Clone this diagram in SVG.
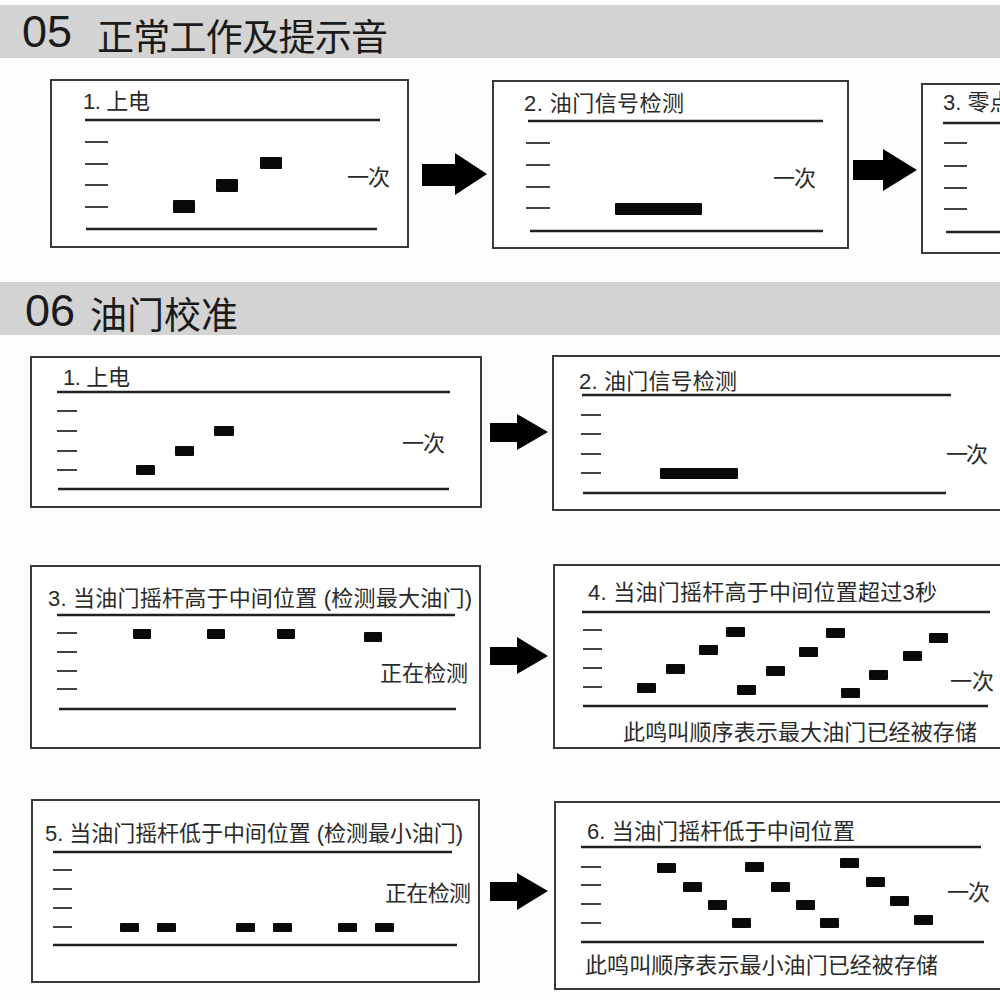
<svg xmlns="http://www.w3.org/2000/svg" width="1000" height="1000" viewBox="0 0 1000 1000">
<style>
.band{fill:#d3d3d3}
.hnum{font-family:"Liberation Sans","Noto Sans CJK SC",sans-serif;font-size:45px;fill:#1a1a1a}
.htxt{font-family:"Noto Sans CJK SC","Liberation Sans",sans-serif;font-size:37px;fill:#1a1a1a}
.box{fill:#fff;stroke:#3a3a3a;stroke-width:2}
.rule{stroke:#222;stroke-width:2.6;fill:none}
.tick{stroke:#444;stroke-width:2;fill:none}
.blk{fill:#0a0a0a}
.t{font-family:"Liberation Sans","Noto Sans CJK SC",sans-serif;font-size:22px;fill:#2a2a2a}
.lab{font-family:"Noto Sans CJK SC","Liberation Sans",sans-serif;font-size:22px;fill:#2a2a2a}
.arrow{fill:#000}
</style>
<rect width="1000" height="1000" fill="#fdfdfd"/>

<g id="header05">
<rect class="band" x="0" y="5" width="1000" height="53"/>
<text class="hnum" x="22" y="47">05</text>
<text class="htxt" x="97" y="51" textLength="291" lengthAdjust="spacing">正常工作及提示音</text>
</g>

<g id="header06">
<rect class="band" x="0" y="282" width="1000" height="53"/>
<text class="hnum" x="25" y="326">06</text>
<text class="htxt" x="90" y="329" textLength="148" lengthAdjust="spacing">油门校准</text>
</g>

<g id="s05-step1">
<rect class="box" x="51" y="80" width="357" height="167"/>
<text class="t" x="83" y="109" font-size="21" textLength="67" lengthAdjust="spacing">1. 上电</text>
<line class="rule" x1="85" y1="120" x2="380" y2="120"/>
<line class="rule" x1="86" y1="229" x2="377" y2="229"/>
<path class="tick" d="M85 142H108M85 164H108M85 185H108M85 207H108"/>
<rect class="blk" x="173" y="200" width="22" height="13" rx="1"/>
<rect class="blk" x="216" y="179" width="22" height="13" rx="1"/>
<rect class="blk" x="260" y="157" width="22" height="12" rx="1"/>
<text class="lab" x="347" y="185" textLength="43" lengthAdjust="spacing">一次</text>
</g>

<g id="s05-step2">
<rect class="box" x="493" y="81" width="355" height="167"/>
<text class="t" x="524" y="111" textLength="160" lengthAdjust="spacing">2. 油门信号检测</text>
<line class="rule" x1="528" y1="121" x2="823" y2="121"/>
<line class="rule" x1="530" y1="231" x2="823" y2="231"/>
<path class="tick" d="M526 143H550M526 165H550M526 187H550M526 208H550"/>
<rect class="blk" x="615" y="203" width="87" height="12" rx="1"/>
<text class="lab" x="773" y="186" textLength="43" lengthAdjust="spacing">一次</text>
</g>

<g id="s05-step3">
<rect class="box" x="922" y="84" width="90" height="169"/>
<text class="t" x="943" y="110" font-size="21">3. 零点</text>
<line class="rule" x1="943" y1="123" x2="1000" y2="123"/>
<line class="rule" x1="946" y1="232" x2="1000" y2="232"/>
<path class="tick" d="M944 143H967M944 166H967M944 188H967M944 209H967"/>
</g>

<g id="s06-step1">
<rect class="box" x="31" y="357" width="450" height="150"/>
<text class="t" x="63" y="385" font-size="21" textLength="67" lengthAdjust="spacing">1. 上电</text>
<line class="rule" x1="57" y1="392" x2="450" y2="392"/>
<line class="rule" x1="58" y1="489" x2="449" y2="489"/>
<path class="tick" d="M57 411H77M57 431H77M57 451H77M57 470H77"/>
<rect class="blk" x="136" y="465" width="19" height="10" rx="1"/>
<rect class="blk" x="175" y="446" width="19" height="10" rx="1"/>
<rect class="blk" x="214" y="426" width="20" height="10" rx="1"/>
<text class="lab" x="402" y="451" textLength="43" lengthAdjust="spacing">一次</text>
</g>

<g id="s06-step2">
<rect class="box" x="553" y="356" width="460" height="154"/>
<text class="t" x="579" y="389" textLength="158" lengthAdjust="spacing">2. 油门信号检测</text>
<line class="rule" x1="582" y1="395" x2="951" y2="395"/>
<line class="rule" x1="583" y1="493" x2="946" y2="493"/>
<path class="tick" d="M581 415H601M581 434H601M581 454H601M581 473H601"/>
<rect class="blk" x="660" y="468" width="78" height="11" rx="1"/>
<text class="lab" x="946" y="462" textLength="42" lengthAdjust="spacing">一次</text>
</g>

<g id="s06-step3">
<rect class="box" x="31" y="566" width="449" height="182"/>
<text class="t" x="48" y="606" textLength="424" lengthAdjust="spacing">3. 当油门摇杆高于中间位置 (检测最大油门)</text>
<line class="rule" x1="57" y1="615" x2="455" y2="615"/>
<line class="rule" x1="59" y1="709" x2="456" y2="709"/>
<path class="tick" d="M57 633H77M57 652H77M57 671H77M57 689H77"/>
<rect class="blk" x="133" y="629" width="18" height="10" rx="1"/>
<rect class="blk" x="207" y="629" width="18" height="10" rx="1"/>
<rect class="blk" x="277" y="629" width="18" height="10" rx="1"/>
<rect class="blk" x="364" y="632" width="18" height="10" rx="1"/>
<text class="lab" x="380" y="681" textLength="88" lengthAdjust="spacing">正在检测</text>
</g>

<g id="s06-step4">
<rect class="box" x="554" y="565" width="460" height="183"/>
<text class="t" x="588" y="600" textLength="349" lengthAdjust="spacing">4. 当油门摇杆高于中间位置超过3秒</text>
<line class="rule" x1="582" y1="612" x2="990" y2="612"/>
<line class="rule" x1="583" y1="706" x2="988" y2="706"/>
<path class="tick" d="M583 630H602M583 649H602M583 668H602M583 687H602"/>
<rect class="blk" x="637" y="683" width="19" height="10" rx="1"/>
<rect class="blk" x="666" y="664" width="19" height="10" rx="1"/>
<rect class="blk" x="699" y="645" width="19" height="10" rx="1"/>
<rect class="blk" x="726" y="627" width="19" height="10" rx="1"/>
<rect class="blk" x="737" y="685" width="19" height="10" rx="1"/>
<rect class="blk" x="766" y="666" width="19" height="10" rx="1"/>
<rect class="blk" x="799" y="647" width="19" height="10" rx="1"/>
<rect class="blk" x="826" y="628" width="19" height="10" rx="1"/>
<rect class="blk" x="841" y="688" width="19" height="10" rx="1"/>
<rect class="blk" x="869" y="670" width="19" height="10" rx="1"/>
<rect class="blk" x="903" y="651" width="19" height="10" rx="1"/>
<rect class="blk" x="929" y="633" width="19" height="10" rx="1"/>
<text class="lab" x="950" y="689" textLength="44" lengthAdjust="spacing">一次</text>
<text class="lab" x="623" y="740" textLength="354" lengthAdjust="spacing">此鸣叫顺序表示最大油门已经被存储</text>
</g>

<g id="s06-step5">
<rect class="box" x="32" y="800" width="447" height="182"/>
<text class="t" x="45" y="841" textLength="418" lengthAdjust="spacing">5. 当油门摇杆低于中间位置 (检测最小油门)</text>
<line class="rule" x1="53" y1="852" x2="452" y2="852"/>
<line class="rule" x1="53" y1="945" x2="457" y2="945"/>
<path class="tick" d="M53 870H72M53 889H72M53 908H72M53 927H72"/>
<rect class="blk" x="120" y="923" width="19" height="9" rx="1"/>
<rect class="blk" x="157" y="923" width="19" height="9" rx="1"/>
<rect class="blk" x="236" y="923" width="19" height="9" rx="1"/>
<rect class="blk" x="273" y="923" width="19" height="9" rx="1"/>
<rect class="blk" x="338" y="923" width="19" height="9" rx="1"/>
<rect class="blk" x="375" y="923" width="19" height="9" rx="1"/>
<text class="lab" x="385" y="901" textLength="86" lengthAdjust="spacing">正在检测</text>
</g>

<g id="s06-step6">
<rect class="box" x="555" y="802" width="460" height="187"/>
<text class="t" x="587" y="839" textLength="268" lengthAdjust="spacing">6. 当油门摇杆低于中间位置</text>
<line class="rule" x1="581" y1="847" x2="981" y2="847"/>
<line class="rule" x1="581" y1="942" x2="984" y2="942"/>
<path class="tick" d="M581 867H601M581 885H601M581 904H601M581 923H601"/>
<rect class="blk" x="657" y="863" width="19" height="10" rx="1"/>
<rect class="blk" x="683" y="882" width="19" height="10" rx="1"/>
<rect class="blk" x="708" y="900" width="19" height="10" rx="1"/>
<rect class="blk" x="732" y="918" width="19" height="10" rx="1"/>
<rect class="blk" x="745" y="862" width="19" height="10" rx="1"/>
<rect class="blk" x="771" y="882" width="19" height="10" rx="1"/>
<rect class="blk" x="796" y="900" width="19" height="10" rx="1"/>
<rect class="blk" x="820" y="918" width="19" height="10" rx="1"/>
<rect class="blk" x="840" y="858" width="19" height="10" rx="1"/>
<rect class="blk" x="866" y="877" width="19" height="10" rx="1"/>
<rect class="blk" x="890" y="896" width="19" height="10" rx="1"/>
<rect class="blk" x="914" y="915" width="19" height="10" rx="1"/>
<text class="lab" x="947" y="900" textLength="43" lengthAdjust="spacing">一次</text>
<text class="lab" x="585" y="973" textLength="353" lengthAdjust="spacing">此鸣叫顺序表示最小油门已经被存储</text>
</g>

<g id="connectors">
<path class="arrow" d="M422 164H455V153L487 174L455 195V186H422Z"/>
<path class="arrow" d="M853 160H883V149L917 170L883 191V180H853Z"/>
<path class="arrow" d="M490 423H517V414L548 432L517 450V442H490Z"/>
<path class="arrow" d="M490 647H517V637L548 656L517 674V665H490Z"/>
<path class="arrow" d="M490 882H517V873L548 891L517 910V901H490Z"/>
</g>
</svg>
